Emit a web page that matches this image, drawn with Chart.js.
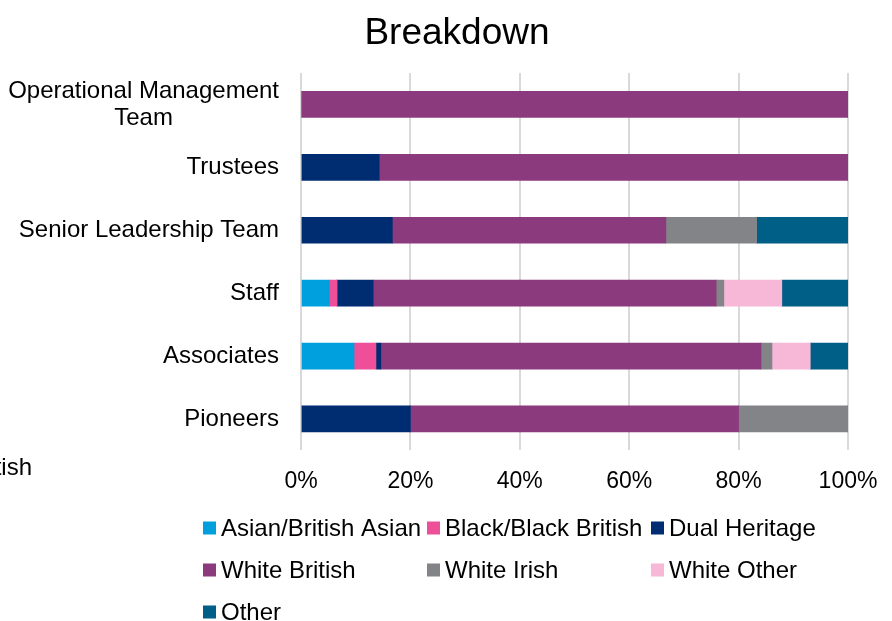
<!DOCTYPE html>
<html>
<head>
<meta charset="utf-8">
<script src="https://cdn.jsdelivr.net/npm/chart.js@4"></script>
<style>
  body { margin: 0; background: #fff; }
  #wrap { width: 892px; height: 621px; }
</style>
</head>
<body>
<div id="wrap"><canvas id="breakdownChart"></canvas></div>
<script>
// data (percent of each group)
const categories = [["Operational Management", "Team"], "Trustees", "Senior Leadership Team", "Staff", "Associates", "Pioneers"];
const asianBritishAsian = [0, 0, 0, 5.2, 9.7, 0];
const blackBritish = [0, 0, 0, 1.4, 4.0, 0];
const dualHeritage = [0, 14.3, 16.7, 6.6, 0.9, 20];
const whiteBritish = [100, 85.7, 50, 62.7, 69.5, 60];
const whiteIrish = [0, 0, 16.6, 1.4, 2.0, 20];
const whiteOther = [0, 0, 0, 10.6, 7.0, 0];
const other = [0, 0, 16.7, 12.1, 6.9, 0];
const xTicks = [0, 20, 40, 60, 80, 100];

const FONT = "'Liberation Sans', Arial, sans-serif";

const series = [
  { label: "Asian/British Asian", data: asianBritishAsian, color: "#00A0DF" },
  { label: "Black/Black British", data: blackBritish, color: "#EF4E99" },
  { label: "Dual Heritage", data: dualHeritage, color: "#002D72" },
  { label: "White British", data: whiteBritish, color: "#8C3A7E" },
  { label: "White Irish", data: whiteIrish, color: "#838487" },
  { label: "White Other", data: whiteOther, color: "#F7B8D7" },
  { label: "Other", data: other, color: "#005F87" }
];

// title centred on the whole canvas, y labels centred per block
const textPlugin = {
  id: "texts",
  afterDraw(chart) {
    const ctx = chart.ctx;
    const y = chart.scales.y;
    ctx.save();
    ctx.fillStyle = "#000";
    ctx.textBaseline = "middle";
    ctx.textAlign = "center";
    ctx.font = "37px " + FONT;
    ctx.fillText("Breakdown", 457, 34);

    ctx.font = "24px " + FONT;
    categories.forEach((cat, i) => {
      const lines = Array.isArray(cat) ? cat : [cat];
      const maxW = Math.max(...lines.map(l => ctx.measureText(l).width));
      const cx = 279 - maxW / 2;
      const cy = y.getPixelForValue(i);
      const lh = 27;
      lines.forEach((l, j) => {
        ctx.fillText(l, cx, cy - (lines.length - 1) * lh / 2 + j * lh);
      });
    });
    // clipped leftover text at the left edge
    ctx.textAlign = "right";
    ctx.fillText("British", 32, 468);
    ctx.restore();
  }
};

// legend laid out in 3 fixed columns
const legendPlugin = {
  id: "gridLegend",
  afterDraw(chart) {
    const ctx = chart.ctx;
    const colX = [203, 427, 651];
    const rowY = [528, 570, 612];
    ctx.save();
    ctx.font = "24px " + FONT;
    ctx.textAlign = "left";
    ctx.textBaseline = "middle";
    chart.data.datasets.forEach((ds, i) => {
      const x = colX[i % 3];
      const yy = rowY[Math.floor(i / 3)];
      ctx.fillStyle = ds.backgroundColor;
      ctx.fillRect(x, yy - 6.5, 13, 13);
      ctx.fillStyle = "#000";
      ctx.fillText(ds.label, x + 18, yy + 1);
    });
    ctx.restore();
  }
};

new Chart(document.getElementById("breakdownChart"), {
  type: "bar",
  data: {
    labels: categories,
    datasets: series.map(s => ({
      label: s.label,
      data: s.data,
      backgroundColor: s.color,
      borderWidth: 0,
      barThickness: 26
    }))
  },
  options: {
    indexAxis: "y",
    responsive: true,
    maintainAspectRatio: false,
    animation: false,
    layout: {
      padding: { left: 301, right: 44, top: 73, bottom: 125 }
    },
    plugins: {
      legend: { display: false },
      tooltip: { enabled: false },
      title: { display: false }
    },
    scales: {
      x: {
        stacked: true,
        min: 0,
        max: 100,
        afterBuildTicks: axis => { axis.ticks = xTicks.map(v => ({ value: v })); },
        ticks: {
          color: "#000",
          font: { family: FONT, size: 23 },
          padding: 1,
          maxRotation: 0,
          callback: v => v + "%"
        },
        grid: { color: "#D9D9D9", lineWidth: 2, drawTicks: true, tickLength: 16, tickColor: "rgba(0,0,0,0)" },
        border: { display: false }
      },
      y: {
        stacked: true,
        display: false
      }
    }
  },
  plugins: [textPlugin, legendPlugin]
});
</script>
</body>
</html>
